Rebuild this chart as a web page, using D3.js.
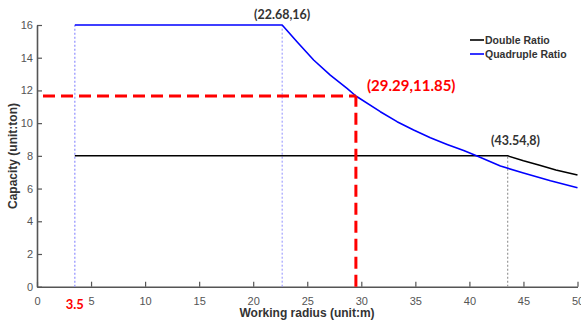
<html>
<head>
<meta charset="utf-8">
<title></title>
<style>
  body { margin: 0; background: #fff; }
  text { font-family: "Liberation Sans", Arial, sans-serif; }
</style>
</head>
<body>
<svg id="chart" width="581" height="322"></svg>
<script src="https://cdn.jsdelivr.net/npm/d3@7"></script>
<script>
// data (radius in m, capacity in t)
var doubleX = [3.5, 43.54, 45, 46.5, 48, 50];
var doubleY = [8, 8, 7.7, 7.42, 7.14, 6.83];

var quadX = [3.5, 22.68, 24.05, 25.59, 27.13, 28.68, 29.5, 31.76, 33.31, 34.84, 36.39, 37.94, 39.47, 40.71, 42.87, 45, 47.5, 50];
var quadY = [16, 16, 14.98, 13.86, 12.94, 12.13, 11.66, 10.7, 10.09, 9.58, 9.11, 8.7, 8.32, 7.99, 7.38, 6.95, 6.48, 6.05];

var xTicks = [0, 5, 10, 15, 20, 25, 30, 35, 40, 45, 50];
var yTicks = [0, 2, 4, 6, 8, 10, 12, 14, 16];

var legendNames = ["Double Ratio", "Quadruple Ratio"];
var legendColors = ["#000", "#0000ff"];

// marked points
var startX = 3.5;
var kneeQuad = [22.68, 16];
var kneeDouble = [43.54, 8];
var redPoint = [29.5, 11.66];
var redLabel = "(29.29,11.85)";

var svg = d3.select("#chart");
var x = d3.scaleLinear().domain([0, 50]).range([37, 577.5]);
var y = d3.scaleLinear().domain([0, 16]).range([286.7, 25]);

var axisColor = "#555";

// axes, MATLAB style ticks pointing inwards
var xAxis = svg.append("g").attr("transform", "translate(0," + y(0) + ")")
    .call(d3.axisBottom(x).tickValues(xTicks).tickSizeInner(-5).tickSizeOuter(0).tickPadding(11));
var yAxis = svg.append("g").attr("transform", "translate(" + x(0) + ",0)")
    .call(d3.axisLeft(y).tickValues(yTicks).tickSizeInner(-5).tickSizeOuter(0).tickPadding(4));
[xAxis, yAxis].forEach(function(a) {
    a.select(".domain").attr("stroke", axisColor).attr("stroke-width", 1.6);
    a.selectAll(".tick line").attr("stroke", axisColor).attr("stroke-width", 1.2);
    a.selectAll(".tick text").attr("fill", "#555").style("font-size", "11px")
        .style("font-family", "'Liberation Sans', Arial, sans-serif");
});
xAxis.selectAll(".tick text").attr("dy", "0.71em");

// dotted guide lines
svg.append("line").attr("x1", x(startX)).attr("x2", x(startX)).attr("y1", y(0)).attr("y2", y(16))
    .attr("stroke", "#8f8fff").attr("stroke-width", 1.2).attr("stroke-dasharray", "2,2");
svg.append("line").attr("x1", x(kneeQuad[0])).attr("x2", x(kneeQuad[0])).attr("y1", y(0)).attr("y2", y(16))
    .attr("stroke", "#8f8fff").attr("stroke-width", 1).attr("stroke-dasharray", "2,2");
svg.append("line").attr("x1", x(kneeDouble[0])).attr("x2", x(kneeDouble[0])).attr("y1", y(0)).attr("y2", y(8))
    .attr("stroke", "#999").attr("stroke-width", 1.2).attr("stroke-dasharray", "2,2");

// curves
var line = d3.line().x(function(d) { return x(d[0]); }).y(function(d) { return y(d[1]); });
svg.append("path").datum(d3.zip(doubleX, doubleY)).attr("d", line)
    .attr("fill", "none").attr("stroke", legendColors[0]).attr("stroke-width", 1.5);
svg.append("path").datum(d3.zip(quadX, quadY)).attr("d", line)
    .attr("fill", "none").attr("stroke", legendColors[1]).attr("stroke-width", 1.6)
    .attr("stroke-linejoin", "round");

// red dashed marker lines
svg.append("line").attr("x1", x(0)).attr("x2", x(redPoint[0])).attr("y1", y(redPoint[1])).attr("y2", y(redPoint[1]))
    .attr("stroke", "#ff0000").attr("stroke-width", 3).attr("stroke-dasharray", "12,6").attr("stroke-dashoffset", -6);
svg.append("line").attr("x1", x(redPoint[0])).attr("x2", x(redPoint[0])).attr("y1", y(0)).attr("y2", y(redPoint[1]))
    .attr("stroke", "#ff0000").attr("stroke-width", 3).attr("stroke-dasharray", "12,6");

// annotations
var ann = "Lato, 'Open Sans', sans-serif";
svg.append("text").attr("x", x(kneeQuad[0])).attr("y", 19).attr("text-anchor", "middle")
    .style("font-family", ann).style("font-weight", "bold").style("font-size", "12.5px").attr("fill", "#333")
    .text("(" + kneeQuad[0] + "," + kneeQuad[1] + ")");
svg.append("text").attr("x", 367).attr("y", 91)
    .style("font-family", ann).style("font-weight", "bold").style("font-size", "15px").attr("fill", "#ff0000")
    .text(redLabel);
svg.append("text").attr("x", 491).attr("y", 145)
    .style("font-family", ann).style("font-weight", "bold").style("font-size", "12.5px").attr("fill", "#333")
    .text("(" + kneeDouble[0] + "," + kneeDouble[1] + ")");
svg.append("text").attr("x", x(startX)).attr("y", 309).attr("text-anchor", "middle")
    .style("font-family", ann).style("font-weight", "bold").style("font-size", "13px").attr("fill", "#ff0000")
    .text(startX);

// axis titles
svg.append("text").attr("x", 307).attr("y", 317).attr("text-anchor", "middle")
    .style("font-weight", "bold").style("font-size", "12px").attr("fill", "#333")
    .text("Working radius (unit:m)");
svg.append("text").attr("transform", "translate(17,156) rotate(-90)").attr("text-anchor", "middle")
    .style("font-weight", "bold").style("font-size", "12px").attr("fill", "#333")
    .text("Capacity (unit:ton)");

// legend
var lg = svg.append("g").attr("transform", "translate(470,40)");
legendNames.forEach(function(name, i) {
    lg.append("line").attr("x1", 0).attr("x2", 14).attr("y1", i * 14).attr("y2", i * 14)
        .attr("stroke", legendColors[i]).attr("stroke-width", 1.6);
    lg.append("text").attr("x", 15).attr("y", i * 14 + 4)
        .style("font-weight", "bold").style("font-size", "10.5px").attr("fill", "#333")
        .text(name);
});
</script>
</body>
</html>
